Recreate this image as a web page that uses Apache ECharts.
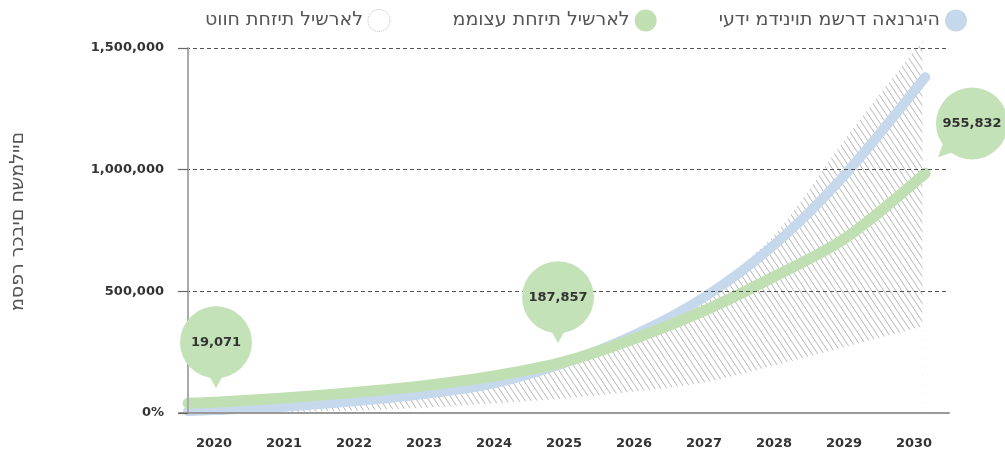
<!DOCTYPE html>
<html>
<head>
<meta charset="utf-8">
<script src="https://cdn.jsdelivr.net/npm/echarts@6/dist/echarts.min.js"></script>
<style>
  html, body { margin: 0; padding: 0; background: #fff; }
  #chart { width: 1005px; height: 451px; }
</style>
</head>
<body>
<div id="chart"></div>
<script>
const years = ['2020', '2021', '2022', '2023', '2024', '2025', '2026', '2027', '2028', '2029', '2030']

// x positions (in years) of the two forecast curves
const curveYears = [2019.63, 2020, 2021, 2022, 2023, 2024, 2025, 2026, 2027, 2028, 2029, 2030.16]
const averageValues = [40000, 44000, 62000, 84000, 112000, 152000, 210000, 305000, 420000, 560000, 715000, 985000]
const policyValues = [8000, 12000, 26000, 48000, 78000, 122000, 205000, 320000, 475000, 690000, 975000, 1380000]

// forecast range (hatched band)
const rangeYears = [2019.65, 2020, 2021, 2022, 2023, 2024, 2025, 2026, 2027, 2028, 2029, 2030.12]
const rangeUpper = [5000, 10000, 24000, 45000, 75000, 118000, 200000, 320000, 490000, 730000, 1120000, 1530000]
const rangeLower = [0, 0, 3000, 10000, 22000, 40000, 60000, 88000, 125000, 195000, 270000, 355000]

// callouts
const calloutYears = [2020, 2025, 2030]
const calloutValues = [19071, 187857, 955832]

const NAME_POLICY = 'יעדי מדיניות משרד האנרגיה'
const NAME_AVERAGE = 'ממוצע תחזית לישראל'
const NAME_RANGE = 'טווח תחזית לישראל'
const Y_NAME = 'מספר רכבים חשמליים'

const GREEN = '#c0e0b3'
const BLUE = '#c6d8ec'
const BUBBLE = '#c4e2b8'
const FONT = '"DejaVu Sans", sans-serif'

// bubble placement relative to its data point (style only)
const calloutLayout = [
  { dx: 2, dy: -66, angle: 90, tail: 10 },
  { dx: -6, dy: -70, angle: 90, tail: 10 },
  { dx: 58, dy: -57, angle: 135, tail: 12 },
]

// the canvas here draws Hebrew without bidi reordering, so flip it for display
const visual = s => Array.from(s).reverse().join('')

function hatchPattern() {
  const w = 6, h = 9
  const cv = document.createElement('canvas')
  cv.width = w
  cv.height = h
  const ctx = cv.getContext('2d')
  ctx.strokeStyle = '#a2a2a2'
  ctx.lineWidth = 0.8
  ctx.beginPath()
  for (const off of [-w, 0, w]) {
    ctx.moveTo(off, 0)
    ctx.lineTo(off + w, h)
  }
  ctx.stroke()
  return cv
}

const pairs = (xs, ys) => xs.map((x, i) => [x, ys[i]])

const chart = echarts.init(document.getElementById('chart'), null, { renderer: 'canvas' })

chart.setOption({
  animation: false,
  backgroundColor: '#fff',
  legend: {
    top: 4,
    right: 33,
    align: 'right',
    itemWidth: 22,
    itemHeight: 22,
    itemGap: 62,
    formatter: name => visual(name),
    textStyle: { fontFamily: FONT, fontSize: 19, color: '#555' },
    data: [
      { name: NAME_RANGE, icon: 'circle', itemStyle: { color: '#fff', borderColor: '#bbb', borderWidth: 1, borderType: 'dotted' } },
      { name: NAME_AVERAGE, icon: 'circle', itemStyle: { color: GREEN, borderWidth: 0 } },
      { name: NAME_POLICY, icon: 'circle', itemStyle: { color: BLUE, borderWidth: 0 } },
    ],
  },
  grid: { left: 179, right: 56, top: 48, bottom: 38 },
  xAxis: [
    {
      type: 'category',
      data: years,
      boundaryGap: true,
      z: 5,
      axisLine: { lineStyle: { color: '#999', width: 2 } },
      axisTick: { length: 11, lineStyle: { color: '#888', width: 1.5 } },
      axisLabel: { margin: 24, fontFamily: FONT, fontSize: 13, fontWeight: 'bold', color: '#333' },
    },
    {
      type: 'value',
      min: 2019.5,
      max: 2030.5,
      show: false,
    },
  ],
  yAxis: {
    type: 'value',
    min: 0,
    max: 1500000,
    interval: 500000,
    offset: -9,
    z: 5,
    name: visual(Y_NAME),
    nameLocation: 'middle',
    nameRotate: 90,
    nameGap: 160,
    nameTextStyle: { fontFamily: FONT, fontSize: 19, color: '#555', padding: [0, 0, 0, 18] },
    axisLine: { show: true, lineStyle: { color: '#aaa', width: 2 } },
    axisTick: { show: true, length: 10, lineStyle: { color: '#666', width: 1.2 } },
    axisLabel: {
      margin: 24,
      fontFamily: FONT,
      fontSize: 13,
      fontWeight: 'bold',
      color: '#333',
      formatter: v => (v === 0 ? '0%' : v.toLocaleString('en-US')),
    },
    splitLine: { show: true, lineStyle: { color: '#555', width: 1, type: [4, 3] } },
  },
  series: [
    {
      name: NAME_RANGE,
      type: 'line',
      xAxisIndex: 1,
      data: pairs(rangeYears, rangeUpper),
      smooth: 0.3,
      showSymbol: false,
      clip: false,
      lineStyle: { width: 0 },
      itemStyle: { color: '#bbb' },
      areaStyle: { color: { image: hatchPattern(), repeat: 'repeat' }, opacity: 1 },
      z: 1,
    },
    {
      name: 'range-lower',
      type: 'line',
      xAxisIndex: 1,
      data: pairs(rangeYears, rangeLower),
      smooth: 0.3,
      showSymbol: false,
      lineStyle: { width: 0 },
      areaStyle: { color: '#fff', opacity: 1 },
      z: 1,
    },
    {
      name: NAME_POLICY,
      type: 'line',
      xAxisIndex: 1,
      data: pairs(curveYears, policyValues),
      smooth: 0.3,
      showSymbol: false,
      itemStyle: { color: BLUE },
      lineStyle: { color: BLUE, width: 10, cap: 'round', join: 'round' },
      z: 3,
    },
    {
      name: NAME_AVERAGE,
      type: 'line',
      xAxisIndex: 1,
      data: pairs(curveYears, averageValues),
      smooth: 0.3,
      showSymbol: false,
      itemStyle: { color: GREEN },
      lineStyle: { color: GREEN, width: 11, cap: 'round', join: 'round' },
      z: 4,
    },
    {
      name: 'callouts',
      type: 'custom',
      xAxisIndex: 1,
      data: pairs(calloutYears, calloutValues),
      z: 6,
      renderItem(params, api) {
        const i = params.dataIndex
        const p = api.coord([api.value(0), api.value(1)])
        const lay = calloutLayout[i]
        const cx = p[0] + lay.dx
        const cy = p[1] + lay.dy
        const r = 36
        const a = lay.angle * Math.PI / 180
        const s = 0.26
        const tip = [cx + Math.cos(a) * (r + lay.tail), cy + Math.sin(a) * (r + lay.tail)]
        return {
          type: 'group',
          children: [
            {
              type: 'polygon',
              shape: {
                points: [
                  [cx + Math.cos(a - s) * (r - 4), cy + Math.sin(a - s) * (r - 4)],
                  [cx + Math.cos(a + s) * (r - 4), cy + Math.sin(a + s) * (r - 4)],
                  tip,
                ],
              },
              style: { fill: BUBBLE },
            },
            { type: 'circle', shape: { cx, cy, r }, style: { fill: BUBBLE } },
            {
              type: 'text',
              style: {
                text: calloutValues[i].toLocaleString('en-US'),
                x: cx,
                y: cy,
                align: 'center',
                verticalAlign: 'middle',
                font: 'bold 13px ' + FONT,
                fill: '#333',
              },
            },
          ],
        }
      },
    },
  ],
})
</script>
</body>
</html>
